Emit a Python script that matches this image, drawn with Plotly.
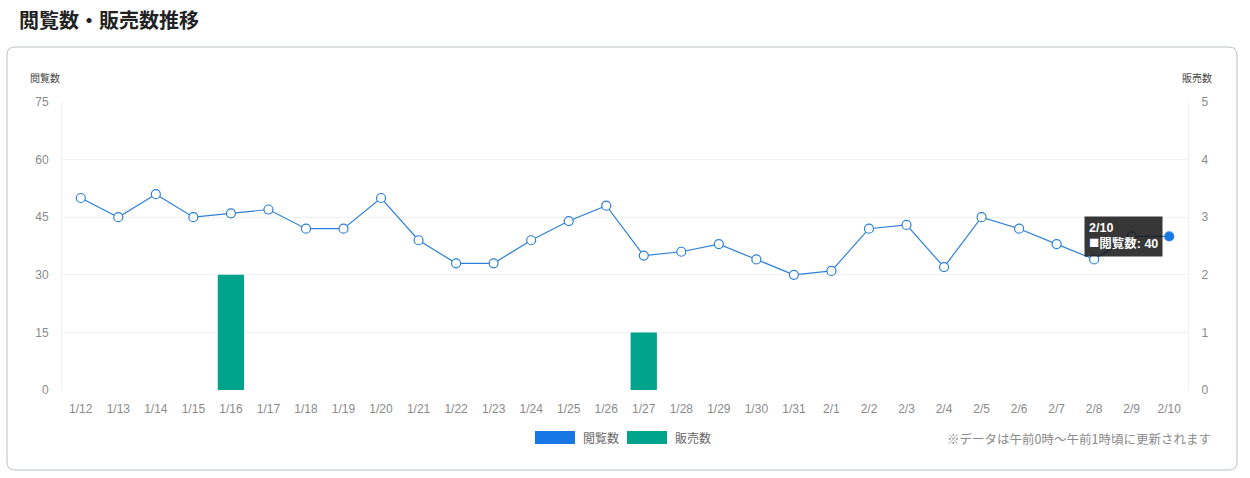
import plotly.graph_objects as go

dates = ["1/12","1/13","1/14","1/15","1/16","1/17","1/18","1/19","1/20","1/21",
         "1/22","1/23","1/24","1/25","1/26","1/27","1/28","1/29","1/30","1/31",
         "2/1","2/2","2/3","2/4","2/5","2/6","2/7","2/8","2/9","2/10"]
views = [50,45,51,45,46,47,42,42,50,39,
         33,33,39,44,48,35,36,38,34,30,
         31,42,43,32,45,42,38,34,40,40]
sales = [0,0,0,0,2,0,0,0,0,0,
         0,0,0,0,0,1,0,0,0,0,
         0,0,0,0,0,0,0,0,0,0]
left_ticks = [0,15,30,45,60,75]
right_ticks = [0,1,2,3,4,5]

FONT = "Liberation Sans, Noto Sans CJK JP, sans-serif"
CJK = "Noto Sans CJK JP, sans-serif"
LINE_BLUE = "#2e80d6"
LEG_BLUE = "#1677e5"
GREEN = "#00a38b"
GRAY = "#8a8a8a"

W, H = 1250, 478
L, R, T, B = 62, 62, 102, 88
pw, ph = W - L - R, H - T - B

def px(x):
    return (x - L) / pw

def py(y):
    return (H - B - y) / ph

fig = go.Figure()
fig.add_trace(go.Bar(x=dates, y=sales, marker=dict(color=GREEN, line=dict(width=0)),
                     width=0.7, name="販売数", yaxis="y", showlegend=False))
fill = ["white"] * (len(dates) - 1) + [LEG_BLUE]
fig.add_trace(go.Scatter(x=dates, y=views, mode="lines+markers", name="閲覧数",
                         yaxis="y2", showlegend=False,
                         line=dict(color=LINE_BLUE, width=1.2),
                         marker=dict(size=9, color=fill, opacity=1,
                                     line=dict(color=LINE_BLUE, width=1.2))))

fig.update_layout(
    width=W, height=H,
    margin=dict(l=L, r=R, t=T, b=B),
    paper_bgcolor="white", plot_bgcolor="white",
    font=dict(family=FONT, color=GRAY, size=12),
    xaxis=dict(type="category", range=[-0.5, len(dates) - 0.5], autorange=False,
               showgrid=False, zeroline=False, showline=False,
               ticks="", tickfont=dict(size=12, color=GRAY),
               ticklabelstandoff=10),
    yaxis=dict(side="right", range=[0, 5], tickvals=right_ticks,
               showgrid=False, zeroline=False, showline=True, linecolor="#f0f0f0",
               tickfont=dict(size=12, color=GRAY), ticklabelstandoff=10),
    yaxis2=dict(side="left", overlaying="y", range=[0, 75], tickvals=left_ticks,
                showgrid=True, gridcolor="#f1f1f1", zeroline=False,
                showline=True, linecolor="#f0f0f0",
                tickfont=dict(size=12, color=GRAY), ticklabelstandoff=10),
)

# card border (rounded rectangle)
x0, x1 = px(7), px(1237)
y0, y1 = py(470), py(47)
rx, ry = 8 / pw, 8 / ph
path = (f"M {x0+rx},{y1} L {x1-rx},{y1} Q {x1},{y1} {x1},{y1-ry} "
        f"L {x1},{y0+ry} Q {x1},{y0} {x1-rx},{y0} L {x0+rx},{y0} "
        f"Q {x0},{y0} {x0},{y0+ry} L {x0},{y1-ry} Q {x0},{y1} {x0+rx},{y1} Z")
fig.add_shape(type="path", path=path, xref="paper", yref="paper",
              line=dict(color="#b9c0c4", width=1), layer="below")

# title
fig.add_annotation(text="<b>閲覧数・販売数推移</b>", xref="paper", yref="paper",
                   x=px(17), y=py(20), xanchor="left", yanchor="middle",
                   showarrow=False, font=dict(size=20, color="#222", family=CJK))
# axis titles
fig.add_annotation(text="閲覧数", xref="paper", yref="paper", x=px(45), y=py(77),
                   xanchor="center", yanchor="middle", showarrow=False,
                   font=dict(size=10, color="#444", family=CJK))
fig.add_annotation(text="販売数", xref="paper", yref="paper", x=px(1197), y=py(77),
                   xanchor="center", yanchor="middle", showarrow=False,
                   font=dict(size=10, color="#444", family=CJK))

# manual legend
fig.add_shape(type="rect", xref="paper", yref="paper",
              x0=px(535), x1=px(575), y0=py(444), y1=py(431),
              fillcolor=LEG_BLUE, line=dict(width=0))
fig.add_annotation(text="閲覧数", xref="paper", yref="paper", x=px(581), y=py(437.5),
                   xanchor="left", yanchor="middle", showarrow=False,
                   font=dict(size=12, color="#666", family=CJK))
fig.add_shape(type="rect", xref="paper", yref="paper",
              x0=px(627), x1=px(667), y0=py(444), y1=py(431),
              fillcolor=GREEN, line=dict(width=0))
fig.add_annotation(text="販売数", xref="paper", yref="paper", x=px(673), y=py(437.5),
                   xanchor="left", yanchor="middle", showarrow=False,
                   font=dict(size=12, color="#666", family=CJK))

# footnote
fig.add_annotation(text="※データは午前0時〜午前1時頃に更新されます", xref="paper", yref="paper",
                   x=px(1213), y=py(438), xanchor="right", yanchor="middle",
                   showarrow=False, font=dict(size=12.5, color=GRAY, family=CJK))

# tooltip
fig.add_annotation(text="<b>2/10</b><br><span style='font-size:17px'>■</span><b>閲覧数: 40</b>",
                   x=dates[-1], y=views[-1], xref="x", yref="y2",
                   xanchor="right", yanchor="middle", xshift=-6, align="left",
                   showarrow=False, bgcolor="rgba(20,20,20,0.85)", borderpad=4,
                   font=dict(size=12.5, color="white", family=FONT))

fig.write_html("out.html")
